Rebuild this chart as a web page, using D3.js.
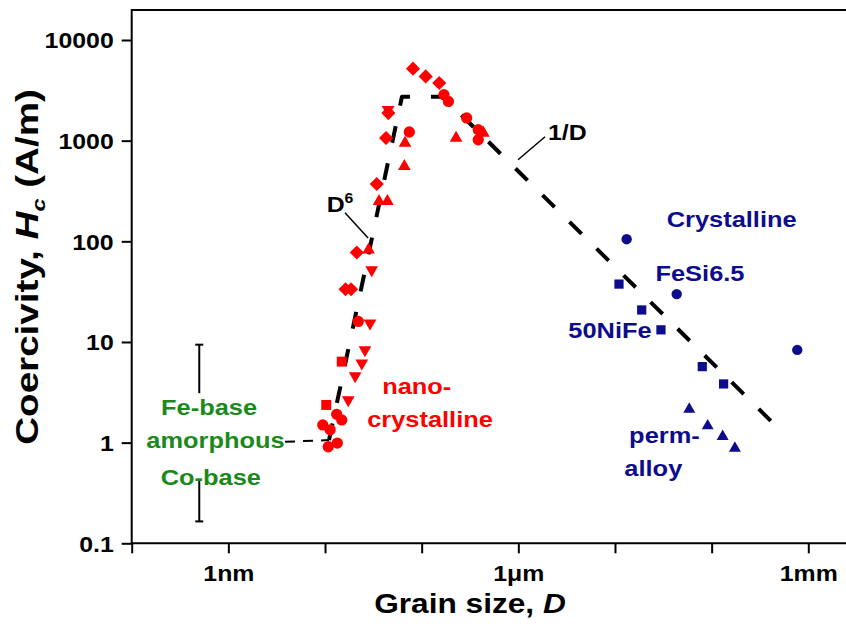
<!DOCTYPE html>
<html>
<head>
<meta charset="utf-8">
<script src="https://cdn.jsdelivr.net/npm/d3@7"></script>
<style>
  body { margin: 0; background: #fff; }
  svg { display: block; }
  text { font-family: Arial, "Liberation Sans", sans-serif; font-weight: bold; }
</style>
</head>
<body>
<svg width="846" height="640"></svg>
<script>
// grain size D in nm, coercivity Hc in A/m  ->  [D, Hc]
var nanoCircles = [[22.1,16.0],[13.2,1.91],[14.9,1.68],[9.48,1.50],[11.3,1.34],[10.8,0.91],[13.4,0.99],
                   [74.5,1219],[170,2858],[189,2455],[292,1680],[385,1283],[385,1020]];
var nanoDiamonds = [[81.3,5190],[110,4345],[152,3740],[45.2,1880],[42.8,1062],[34.3,371],[21.3,77.4],[16.3,33.4],[18.6,33.4]];
var nanoSquares = [[14.9,6.38],[10.3,2.37]];
var nanoTriUp = [[67.3,946],[66.2,555],[227,1062],[435,1191],[36.2,249],[44.2,249],[28.2,82.4]];
var nanoTriDown = [[44.9,2028],[30.4,52.1],[29.2,15.4],[25.9,8.34],[24.0,6.15],[20.5,4.60],[17.4,2.66]];

var crystCircles = [[13200,105],[43500,29.9],[769000,8.34]];
var crystSquares = [[11000,37.6],[18900,20.8],[29900,13.2],[80000,5.69],[133000,3.83]];
var crystTriUp = [[58700,2.15],[91000,1.47],[130000,1.15],[174000,0.88]];

// amorphous range bars (drawn in two pieces around the labels)
var amorphBarD = 0.5;
var amorphBarTop = [9.4, 3.1];
var amorphBarBottom = [0.42, 0.165];

// guide lines
var fitAmorph = [[3.86,1.02],[11.0,1.06]];
var fitNano = [[11.0,1.06],[62.5,2730],[166,2730],[533000,1.28]];
var leaderD6 = [[16.1,192],[27.9,108]];
var leaderInvD = [[1890,1094],[993,646]];

// axes
var xTicks = [0.1,1,10,100,1000,1e4,1e5,1e6];
var xTickLabels = {1:"1nm", 1000:"1\u03bcm", 1000000:"1mm"};
var yTicks = [0.1,1,10,100,1000,10000];
var yTickLabels = ["0.1","1","10","100","1000","10000"];

// labels [text, D, Hc, colour]
var groupLabels = [
  ["Crystalline", 161000, 139, "blue"],
  ["FeSi6.5", 75700, 40.5, "blue"],
  ["50NiFe", 8880, 11.0, "blue"],
  ["perm-", 14000, 0.99, "blue"],
  ["alloy", 12500, 0.467, "blue"],
  ["nano-", 88.9, 3.05, "red"],
  ["crystalline", 122, 1.44, "red"],
  ["Fe-base", 0.631, 1.88, "green"],
  ["amorphous", 0.737, 0.879, "green"],
  ["Co-base", 0.658, 0.380, "green"]
];

var colors = {red: "#ff0000", blue: "#0c0c8c", green: "#1b8a1b"};
var sx = 1.13;   // the source picture is a little wider than tall

var svg = d3.select("svg");
svg.append("rect").attr("width", 846).attr("height", 640).attr("fill", "#fff");

var x = d3.scaleLog().domain([0.1, 1e6]).range([131.7, 808.3]);
var y = d3.scaleLog().domain([0.1, 1e4]).range([543.3, 40]);
var yTop = 10, xRight = 900;

// frame
svg.append("path")
    .attr("d", "M" + xRight + "," + yTop + "H" + x(0.1) + "V" + y(0.1) + "H" + xRight)
    .attr("fill", "none").attr("stroke", "#000").attr("stroke-width", 2);

var gx = svg.append("g")
    .attr("transform", "translate(0," + y(0.1) + ")")
    .call(d3.axisBottom(x).tickValues(xTicks).tickSize(10).tickSizeOuter(0)
        .tickFormat(function(d) { return xTickLabels[Math.round(d)] || ""; }));
gx.select(".domain").remove();
gx.selectAll("line").attr("stroke-width", 2);
gx.selectAll("text").attr("font-size", 22).attr("fill", "#000")
    .attr("y", 38).attr("dy", 0)
    .attr("transform", "scale(" + sx + ",1)");

var gy = svg.append("g")
    .attr("transform", "translate(" + x(0.1) + ",0)")
    .call(d3.axisLeft(y).tickValues(yTicks).tickSize(10).tickSizeOuter(0)
        .tickFormat(function(d, i) { return yTickLabels[i]; }));
gy.select(".domain").remove();
gy.selectAll("line").attr("stroke-width", 2);
gy.selectAll("text").attr("font-size", 22).attr("fill", "#000")
    .attr("x", -18 / sx).attr("dy", "0.36em")
    .attr("transform", "scale(" + sx + ",1)");

// axis titles
var xt = svg.append("text")
    .attr("transform", "translate(470,613) scale(" + sx + ",1)")
    .attr("text-anchor", "middle").attr("font-size", 28);
xt.append("tspan").text("Grain size, ");
xt.append("tspan").attr("font-style", "italic").text("D");

var yt = svg.append("text")
    .attr("transform", "translate(38,267) scale(" + sx + ",1.38) rotate(-90)")
    .attr("text-anchor", "middle").attr("font-size", 28);
yt.append("tspan").text("Coercivity, ");
yt.append("tspan").attr("font-style", "italic").text("H");
yt.append("tspan").attr("font-style", "italic").attr("font-size", 17).attr("dy", 6).text("c");
yt.append("tspan").attr("dy", -6).text(" (A/m)");

// guide lines
var line = d3.line()
    .x(function(d) { return x(d[0]); })
    .y(function(d) { return y(d[1]); });

svg.append("path").datum(fitAmorph).attr("d", line)
    .attr("fill", "none").attr("stroke", "#000").attr("stroke-width", 2)
    .attr("stroke-dasharray", "10,8");
svg.append("path").datum(fitNano).attr("d", line)
    .attr("fill", "none").attr("stroke", "#000").attr("stroke-width", 4)
    .attr("stroke-dasharray", "17,21").attr("stroke-linejoin", "round");
[leaderD6, leaderInvD].forEach(function(l) {
  svg.append("path").datum(l).attr("d", line)
      .attr("fill", "none").attr("stroke", "#000").attr("stroke-width", 1.5);
});

// amorphous range bars
[amorphBarTop, amorphBarBottom].forEach(function(b, i) {
  var bx = x(amorphBarD);
  var capY = y(i === 0 ? b[0] : b[1]);
  svg.append("line").attr("x1", bx).attr("x2", bx)
      .attr("y1", y(b[0])).attr("y2", y(b[1]))
      .attr("stroke", "#000").attr("stroke-width", 2);
  svg.append("line").attr("x1", bx - 4).attr("x2", bx + 4)
      .attr("y1", capY).attr("y2", capY)
      .attr("stroke", "#000").attr("stroke-width", 2);
});

// markers
function drawPoints(data, type, size, rot, color) {
  svg.append("g").selectAll("path")
      .data(data)
    .enter().append("path")
      .attr("d", d3.symbol().type(type).size(size))
      .attr("transform", function(d) {
        return "translate(" + x(d[0]) + "," + y(d[1]) + ") rotate(" + rot + ")";
      })
      .attr("fill", color);
}

drawPoints(nanoTriUp, d3.symbolTriangle, 70, 0, colors.red);
drawPoints(nanoTriDown, d3.symbolTriangle, 70, 180, colors.red);
drawPoints(nanoSquares, d3.symbolSquare, 100, 0, colors.red);
drawPoints(nanoCircles, d3.symbolCircle, 100, 0, colors.red);
drawPoints(nanoDiamonds, d3.symbolSquare, 100, 45, colors.red);

drawPoints(crystCircles, d3.symbolCircle, 85, 0, colors.blue);
drawPoints(crystSquares, d3.symbolSquare, 85, 0, colors.blue);
drawPoints(crystTriUp, d3.symbolTriangle, 62, 0, colors.blue);

// text labels
groupLabels.forEach(function(l) {
  var anchor = (l[0] === "perm-" || l[0] === "alloy") ? "start" : "middle";
  svg.append("text")
      .attr("transform", "translate(" + x(l[1]) + "," + y(l[2]) + ") scale(" + sx + ",1)")
      .attr("text-anchor", anchor)
      .attr("font-size", 22.5)
      .attr("fill", colors[l[3]])
      .text(l[0]);
});

var d6 = svg.append("text")
    .attr("transform", "translate(" + x(10.4) + "," + y(196) + ") scale(" + sx + ",1)")
    .attr("font-size", 22);
d6.append("tspan").text("D");
d6.append("tspan").attr("font-size", 14).attr("dy", -9).text("6");

svg.append("text")
    .attr("transform", "translate(" + x(2030) + "," + y(1020) + ") scale(" + sx + ",1)")
    .attr("font-size", 22)
    .text("1/D");
</script>
</body>
</html>
